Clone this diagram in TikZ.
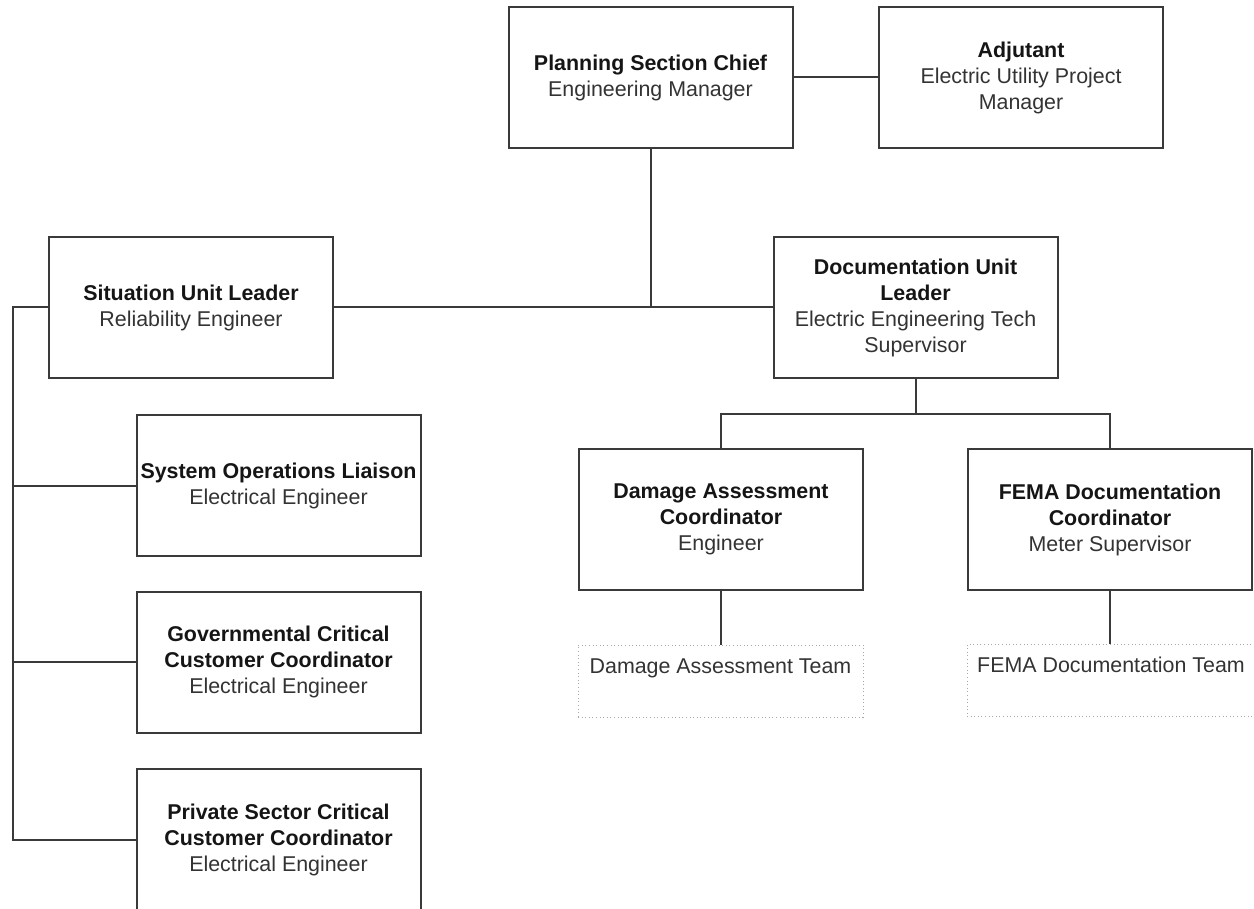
\documentclass[tikz,border=0pt]{standalone}
\usepackage{fontspec}
\setmainfont{Liberation Sans}
\usetikzlibrary{calc}
\definecolor{edge}{HTML}{3A3A3A}
\definecolor{headtxt}{HTML}{151515}
\definecolor{roletxt}{HTML}{333333}
\definecolor{dots}{HTML}{A8A8A8}
% one line of a post title (bold) and one line of a job title (regular)
\newcommand{\hd}[1]{{\color{headtxt}\bfseries #1}}
\newcommand{\rl}[1]{{\color{roletxt}#1}}
\tikzset{
  orgbox/.style={draw=edge, line width=2pt, fill=white, minimum width=284pt,
    minimum height=141pt, inner sep=0pt, align=center,
    font=\fontsize{21.4}{26}\selectfont},
  teambox/.style={draw=dots, line width=1pt, dash pattern=on 1pt off 2.6pt,
    inner sep=0pt, text height=28pt, text depth=44pt, align=center,
    text=roletxt, font=\fontsize{21.4}{26}\selectfont},
  link/.style={draw=edge, line width=2pt}
}
\begin{document}
\begin{tikzpicture}[x=1pt, y=-1pt]
\useasboundingbox (0,0) rectangle (1254,909);

% top row
\node[orgbox] (plan) at (650.5,77.5) {\hd{Planning Section Chief}\\\rl{Engineering Manager}};
\node[orgbox] (adj) at (1021,77.5) {\hd{Adjutant}\\\rl{Electric Utility Project}\\\rl{Manager}};

% unit leaders
\node[orgbox] (sit) at (191,307.5) {\hd{Situation Unit Leader}\\\rl{Reliability Engineer}};
\node[orgbox] (doc) at (915.5,307.5) {\hd{Documentation Unit}\\\hd{Leader}\\\rl{Electric Engineering Tech}\\\rl{Supervisor}};

% situation unit staff
\node[orgbox] (sys) at (278.5,485.5) {\hd{System Operations Liaison}\\\rl{Electrical Engineer}};
\node[orgbox] (gov) at (278.5,662) {\hd{Governmental Critical}\\\hd{Customer Coordinator}\\\rl{Electrical Engineer}};
\node[orgbox] (priv) at (278.5,839.5) {\hd{Private Sector Critical}\\\hd{Customer Coordinator}\\\rl{Electrical Engineer}};

% documentation unit staff
\node[orgbox] (dmg) at (721,519.5) {\hd{Damage Assessment}\\\hd{Coordinator}\\\rl{Engineer}};
\node[orgbox] (fema) at (1110,519.5) {\hd{FEMA Documentation}\\\hd{Coordinator}\\\rl{Meter Supervisor}};

% teams
\node[teambox, minimum width=285pt] (dmgteam) at (720.5,681) {Damage Assessment Team};
\node[teambox, minimum width=288pt] (femateam) at (1111,680.5) {FEMA Documentation Team};

% junction points
\coordinate (mid) at (plan.south |- sit.east);
\coordinate (split) at ($(doc.south)+(0,35)$);
\coordinate (spine) at (13,307.5);

% connectors
\draw[link] (plan.east) -- (adj.west);
\draw[link] (sit.east) -- (doc.west);
\draw[link] (plan.south) -- (mid);
\draw[link] (doc.south) -- (split);
\draw[link] (dmg.north) |- (split) -| (fema.north);
\draw[link] (dmg.south) -- (dmg.south |- dmgteam.north);
\draw[link] (fema.south) -- (fema.south |- femateam.north);
\draw[link] (sit.west) -- (spine) |- (priv.west);
\draw[link] (spine |- sys.west) -- (sys.west);
\draw[link] (spine |- gov.west) -- (gov.west);
\end{tikzpicture}
\end{document}
